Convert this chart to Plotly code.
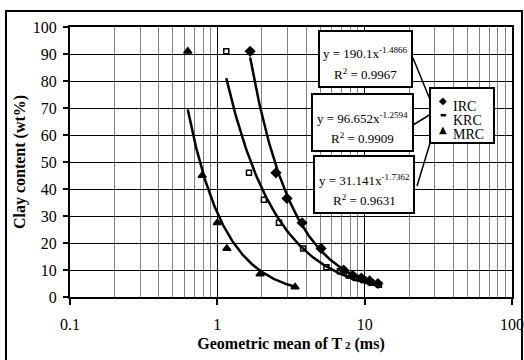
import numpy as np
import plotly.graph_objects as go

# ---- data ----
irc_x = [1.67, 2.5, 2.97, 3.76, 5.06, 7.2, 8.3, 9.5, 10.8, 12.3]
irc_y = [91, 46, 36.5, 27.5, 18, 10, 8, 7, 6, 5]
krc_x = [1.15, 1.64, 2.07, 2.62, 3.82, 5.5, 6.8, 7.8, 8.8, 9.8, 11.0, 12.5]
krc_y = [91, 46, 36, 27.5, 18, 11, 9.5, 8, 7, 6.5, 5.5, 4.5]
mrc_x = [0.63, 0.79, 1.0, 1.16, 1.95, 3.37]
mrc_y = [91, 45, 27.5, 18, 8.5, 3.7]

series_names = ["IRC", "KRC", "MRC"]
fit_a = [190.1, 96.652, 31.141]
fit_b = [-1.4866, -1.2594, -1.7362]
fit_r2 = ["0.9967", "0.9909", "0.9631"]

x_ticks = [0.1, 1, 10, 100]
x_ticklabels = ["0.1", "1", "10", "100"]

FONT = "Liberation Serif, Times New Roman, serif"

fig = go.Figure()

symbols = ["diamond", "square-open", "triangle-up"]
sizes = [7, 5, 7]
for name, xs, ys, a, b, sym, sz in zip(series_names, [irc_x, krc_x, mrc_x],
                                        [irc_y, krc_y, mrc_y], fit_a, fit_b,
                                        symbols, sizes):
    xf = np.geomspace(min(xs), max(xs), 120)
    fig.add_trace(go.Scatter(x=xf, y=a * xf ** b, mode="lines",
                             line=dict(color="black", width=2.5),
                             showlegend=False, hoverinfo="skip"))
    fig.add_trace(go.Scatter(x=xs, y=ys, mode="markers", name=name,
                             marker=dict(symbol=sym, size=sz, color="black",
                                         line=dict(color="black", width=1.5)),
                             showlegend=False))

# ---- pixel helpers for boxes (plot area: x 70..512, y 27..297) ----
def px(x):
    return (x - 70) / 442.0

def py(y):
    return (297 - y) / 270.0

shapes = []
annotations = []

# outer border
shapes.append(dict(type="rect", xref="paper", yref="paper",
                   x0=px(6), x1=px(522), y0=py(370), y1=py(11),
                   line=dict(color="black", width=2)))

# leader lines (drawn first so boxes sit on top)
for (xa, ya, xb, yb) in [(413, 58, 431, 102), (413, 125, 431, 114), (431, 140, 417, 186)]:
    shapes.append(dict(type="line", xref="paper", yref="paper",
                       x0=px(xa), y0=py(ya), x1=px(xb), y1=py(yb),
                       line=dict(color="black", width=1.5)))

boxes = [  # x0, x1, ytop, ybot, line1_y, line2_y
    (319, 412, 31, 87, 53, 74),
    (312, 413, 94, 151, 118, 138),
    (314, 414, 156, 213, 180, 200),
]
for (x0, x1, yt, yb, l1, l2), a, b, r2 in zip(boxes, fit_a, fit_b, fit_r2):
    shapes.append(dict(type="rect", xref="paper", yref="paper",
                       x0=px(x0), x1=px(x1), y0=py(yb), y1=py(yt),
                       line=dict(color="black", width=2), fillcolor="white",
                       layer="above"))
    cx = px((x0 + x1) / 2)
    annotations.append(dict(xref="paper", yref="paper", x=cx, y=py(l1),
                            xanchor="center", yanchor="middle",
                            text=f"y = {a}x<sup>{b}</sup>", showarrow=False,
                            font=dict(family=FONT, size=13, color="black")))
    annotations.append(dict(xref="paper", yref="paper", x=cx, y=py(l2),
                            xanchor="center", yanchor="middle",
                            text=f"R<sup>2</sup> = {r2}", showarrow=False,
                            font=dict(family=FONT, size=13, color="black")))

# legend box
shapes.append(dict(type="rect", xref="paper", yref="paper",
                   x0=px(430), x1=px(494), y0=py(143), y1=py(88),
                   line=dict(color="black", width=2), fillcolor="white"))
leg_glyphs = ["◆", "▬", "▲"]
leg_glyph_size = [10, 7, 10]
for i, (name, g, gs) in enumerate(zip(series_names, leg_glyphs, leg_glyph_size)):
    annotations.append(dict(xref="paper", yref="paper", x=px(443), y=py(101 + 14 * i),
                            text=g, showarrow=False, xanchor="center", yanchor="middle",
                            font=dict(family="DejaVu Sans", size=gs, color="black")))
    annotations.append(dict(xref="paper", yref="paper", x=px(451), y=py(106 + 14 * i),
                            text=name, showarrow=False, xanchor="left", yanchor="middle",
                            font=dict(family=FONT, size=14, color="black")))

fig.update_layout(
    width=524, height=360,
    margin=dict(l=70, r=12, t=27, b=63),
    paper_bgcolor="white", plot_bgcolor="white",
    font=dict(family=FONT, size=16, color="black"),
    shapes=shapes, annotations=annotations,
    showlegend=False,
)

fig.update_xaxes(
    type="log", range=[-1, 2], automargin=False,
    tickvals=x_ticks, ticktext=x_ticklabels,
    showgrid=True, gridcolor="black", gridwidth=1,
    minor=dict(dtick="D1", showgrid=True, gridcolor="#808080", gridwidth=1, ticks=""),
    ticks="outside", ticklen=6, tickwidth=2, tickcolor="black",
    ticklabelstandoff=6,
    showline=True, linecolor="black", linewidth=2, mirror=True,
    zeroline=False,
    title=dict(text="<b>Geometric mean of T<span style='font-size:11px'> 2</span> (ms)</b>",
               font=dict(family=FONT, size=16), standoff=6),
)
fig.update_yaxes(
    range=[0, 100], dtick=10, automargin=False,
    showgrid=True, gridcolor="black", gridwidth=1,
    ticks="outside", ticklen=5, tickwidth=2, tickcolor="black",
    ticklabelstandoff=3,
    showline=True, linecolor="black", linewidth=2, mirror=True,
    zeroline=False,
    title=dict(text="<b>Clay content (wt%)</b>", font=dict(family=FONT, size=16), standoff=3),
)

fig.write_html("out.html")
